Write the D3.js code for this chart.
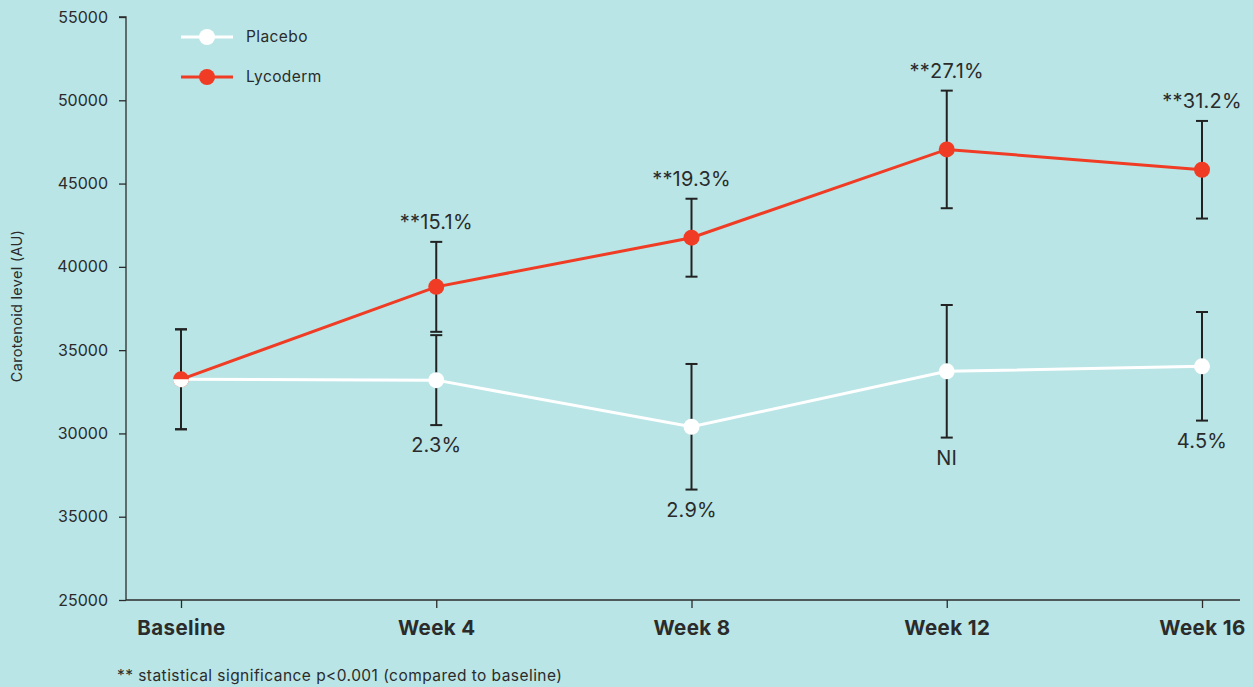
<!DOCTYPE html>
<html>
<head>
<meta charset="utf-8">
<script src="https://cdn.jsdelivr.net/npm/d3@7"></script>
<style>
  html, body { margin: 0; padding: 0; background: #b9e5e6; }
  svg { display: block; font-family: Inter, "Noto Sans", sans-serif; }
</style>
</head>
<body>
<svg id="chart" width="1253" height="687"></svg>
<script>
// ---- data ----
const categories = ["Baseline", "Week 4", "Week 8", "Week 12", "Week 16"];
const placeboValues = [33250, 33200, 30400, 33730, 34030];
const placeboErrors = [3000, 2700, 3770, 3980, 3260];
const placeboLabels = ["", "2.3%", "2.9%", "NI", "4.5%"];
const lycodermValues = [33250, 38800, 41750, 47050, 45830];
const lycodermErrors = [3000, 2700, 2340, 3530, 2930];
const lycodermLabels = ["", "**15.1%", "**19.3%", "**27.1%", "**31.2%"];
const yTickValues = [20000, 25000, 30000, 35000, 40000, 45000, 50000, 55000];
const yTickLabels = ["25000", "35000", "30000", "35000", "40000", "45000", "50000", "55000"];
const seriesNames = ["Placebo", "Lycoderm"];
const yTitle = "Carotenoid level (AU)";
const footnote = "** statistical significance p<0.001 (compared to baseline)";

// ---- layout ----
const RED = "#f03c24", WHITE = "#ffffff", INK = "#2b2b2b";
const axisX = 126, axisRight = 1240, axisTop = 17, axisBottom = 600;
const svg = d3.select("#chart");

const x = d3.scalePoint().domain(categories).range([181, 1202]);
const y = d3.scaleLinear().domain([20000, 55000]).range([axisBottom, axisTop]);

// y axis
const yAxis = d3.axisLeft(y).tickValues(yTickValues)
  .tickFormat((d, i) => yTickLabels[i]).tickSize(7).tickPadding(11);
const gy = svg.append("g").attr("transform", `translate(${axisX},0)`).call(yAxis);
gy.select(".domain").attr("stroke", INK).attr("stroke-width", 1.3).attr("d", `M-7,${axisTop}H0V${axisBottom}`);
gy.selectAll(".tick line").attr("stroke", INK).attr("stroke-width", 1.3);
gy.selectAll(".tick text").attr("fill", INK).style("font-size", "16px").style("font-family", "Inter, sans-serif");

// x axis
const xAxis = d3.axisBottom(x).tickSize(8).tickPadding(12);
const gx = svg.append("g").attr("transform", `translate(0,${axisBottom})`).call(xAxis);
gx.select(".domain").attr("stroke", INK).attr("stroke-width", 1.3).attr("d", `M${axisX},0H${axisRight}`);
gx.selectAll(".tick line").attr("stroke", INK).attr("stroke-width", 1.3);
gx.selectAll(".tick text").attr("fill", INK).style("font-size", "20.5px").style("font-weight", "700")
  .style("letter-spacing", "0.4px").style("font-family", "Inter, sans-serif");

// y title
svg.append("text").attr("transform", `translate(22,306) rotate(-90)`)
  .attr("text-anchor", "middle").attr("fill", INK).style("font-size", "14.5px")
  .style("letter-spacing", "0.3px").text(yTitle);

// footnote
svg.append("text").attr("x", 117).attr("y", 681).attr("fill", INK).style("font-size", "15.5px")
  .style("letter-spacing", "0.45px").text(footnote);

const series = [
  { name: seriesNames[0], values: placeboValues, errors: placeboErrors, labels: placeboLabels, color: WHITE, below: true },
  { name: seriesNames[1], values: lycodermValues, errors: lycodermErrors, labels: lycodermLabels, color: RED, below: false }
];

// error bars
const capW = 6;
series.forEach(s => {
  const g = svg.append("g");
  categories.forEach((c, i) => {
    const cx = x(c), top = y(s.values[i] + s.errors[i]), bot = y(s.values[i] - s.errors[i]);
    g.append("line").attr("x1", cx).attr("x2", cx).attr("y1", top).attr("y2", bot)
      .attr("stroke", "#222").attr("stroke-width", 2);
    [top, bot].forEach(yy => g.append("line").attr("x1", cx - capW).attr("x2", cx + capW)
      .attr("y1", yy).attr("y2", yy).attr("stroke", "#222").attr("stroke-width", 2));
  });
});

// lines
const line = d3.line().x((d, i) => x(categories[i])).y(d => y(d));
series.forEach(s => {
  svg.append("path").datum(s.values).attr("d", line).attr("fill", "none")
    .attr("stroke", s.color).attr("stroke-width", 3);
});

// points
const r = 8;
series.slice().reverse().forEach(s => {
  const g = svg.append("g");
  s.values.forEach((v, i) => {
    const cx = x(categories[i]), cy = y(v);
    const other = s === series[0] ? series[1] : series[0];
    if (s === series[0] && other.values[i] === v) {
      // overlapping points: white shows as the lower half
      const arc = d3.arc().innerRadius(0).outerRadius(r).startAngle(Math.PI / 2).endAngle(Math.PI * 1.5);
      g.append("path").attr("d", arc()).attr("transform", `translate(${cx},${cy})`).attr("fill", s.color);
    } else {
      g.append("circle").attr("cx", cx).attr("cy", cy).attr("r", r).attr("fill", s.color);
    }
  });
});

// value labels
series.forEach(s => {
  categories.forEach((c, i) => {
    if (!s.labels[i]) return;
    const yy = s.below ? y(s.values[i] - s.errors[i]) + 20 : y(s.values[i] + s.errors[i]) - 20;
    svg.append("text").attr("x", x(c)).attr("y", yy).attr("dy", "0.36em")
      .attr("text-anchor", "middle").attr("fill", INK).style("font-size", "20px")
      .style("letter-spacing", "0.2px").text(s.labels[i]);
  });
});

// legend
series.forEach((s, i) => {
  const ly = 37 + i * 40;
  const g = svg.append("g");
  g.append("line").attr("x1", 181).attr("x2", 233).attr("y1", ly).attr("y2", ly)
    .attr("stroke", s.color).attr("stroke-width", 3);
  g.append("circle").attr("cx", 207).attr("cy", ly).attr("r", r).attr("fill", s.color);
  g.append("text").attr("x", 246).attr("y", ly).attr("dy", "0.35em").attr("fill", INK)
    .style("font-size", "15.5px").style("letter-spacing", "0.4px").text(s.name);
});
</script>
</body>
</html>
